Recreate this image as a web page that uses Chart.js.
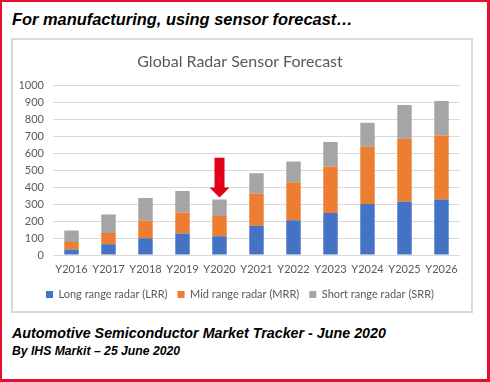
<!DOCTYPE html>
<html>
<head>
<meta charset="utf-8">
<script src="https://cdn.jsdelivr.net/npm/chart.js@4"></script>
<style>
  html, body { margin: 0; padding: 0; background: #fff; }
  #frame { position: absolute; left: 0; top: 0; width: 490px; height: 382px; box-sizing: border-box;
           border-style: solid; border-color: #e60f2d; border-width: 2px 3px 3px 2px; background: #fff; }
  .hdr { position: absolute; font-family: "Liberation Sans", Arial, sans-serif; font-weight: bold; font-style: italic; color: #000; white-space: nowrap; }
  #h1 { left: 12px; top: 10px; font-size: 16.4px; }
  #f1 { left: 12px; top: 325px; font-size: 14.3px; }
  #f2 { left: 12px; top: 344px; font-size: 12.2px; }
  #box { position: absolute; left: 11px; top: 38px; width: 462px; height: 275px; box-sizing: border-box;
         border: 2px solid #d9d9d9; background: #fff; }
  #box canvas { display: block; }
</style>
</head>
<body>
<div id="frame"></div>
<div class="hdr" id="h1">For manufacturing, using sensor forecast…</div>
<div id="box"><canvas id="c" width="458" height="271"></canvas></div>
<div class="hdr" id="f1">Automotive Semiconductor Market Tracker - June 2020</div>
<div class="hdr" id="f2">By IHS Markit – 25 June 2020</div>
<script>
const categories = ["Y2016","Y2017","Y2018","Y2019","Y2020","Y2021","Y2022","Y2023","Y2024","Y2025","Y2026"];
const longRange  = [33, 63, 99, 126, 110, 172, 205, 247, 300, 314, 327];
const midRange   = [44, 67, 102, 124, 119, 189, 223, 274, 337, 370, 377];
const shortRange = [67, 109, 134, 127, 98, 120, 122, 144, 142, 200, 203];
const seriesNames = ["Long range radar (LRR)", "Mid range radar (MRR)", "Short range radar (SRR)"];
const chartTitle = "Global Radar Sensor Forecast";
const arrowCategory = "Y2020";
const arrowFrom = 572, arrowTo = 339;

const FONT = "Lato, 'Open Sans', sans-serif";

const arrowPlugin = {
  id: 'arrow',
  afterDatasetsDraw(chart) {
    const x = chart.scales.x, y = chart.scales.y, ctx = chart.ctx;
    const cx = x.getPixelForValue(categories.indexOf(arrowCategory));
    const top = y.getPixelForValue(arrowFrom);
    const tip = y.getPixelForValue(arrowTo);
    const headLen = 10, shaftW = 10, headW = 20;
    ctx.save();
    ctx.fillStyle = '#e2001a';
    ctx.beginPath();
    ctx.moveTo(cx - shaftW/2, top);
    ctx.lineTo(cx + shaftW/2, top);
    ctx.lineTo(cx + shaftW/2, tip - headLen);
    ctx.lineTo(cx + headW/2, tip - headLen);
    ctx.lineTo(cx, tip);
    ctx.lineTo(cx - headW/2, tip - headLen);
    ctx.lineTo(cx - shaftW/2, tip - headLen);
    ctx.closePath();
    ctx.fill();
    ctx.restore();
  }
};

new Chart(document.getElementById('c'), {
  type: 'bar',
  data: {
    labels: categories,
    datasets: [
      { label: seriesNames[0], data: longRange,  backgroundColor: '#4472c4' },
      { label: seriesNames[1], data: midRange,   backgroundColor: '#ed7d31' },
      { label: seriesNames[2], data: shortRange, backgroundColor: '#a5a5a5' }
    ]
  },
  options: {
    responsive: false,
    animation: false,
    layout: { padding: { left: 7, right: 11, top: 12, bottom: 1 } },
    datasets: { bar: { categoryPercentage: 0.39, barPercentage: 1 } },
    plugins: {
      title: { display: true, text: chartTitle, color: '#595959',
               font: { family: FONT, size: 16, weight: 'normal' }, padding: { top: 0, bottom: 14 } },
      legend: { position: 'bottom',
                labels: { color: '#595959', font: { family: FONT, size: 11 }, boxWidth: 7, boxHeight: 7, padding: 10 } },
      tooltip: { enabled: false }
    },
    scales: {
      x: { stacked: true,
           grid: { display: false, drawTicks: false, tickLength: 0 },
           border: { display: false },
           afterFit: (s) => { s.height = 24; },
           ticks: { color: '#595959', font: { family: FONT, size: 11 }, padding: 8, maxRotation: 0, minRotation: 0, autoSkip: false } },
      y: { stacked: true, min: 0, max: 1000,
           grid: { color: '#d9d9d9', drawTicks: false, tickLength: 0 },
           border: { display: false },
           afterFit: (s) => { s.width = 33; },
           ticks: { stepSize: 100, autoSkip: false, color: '#595959', font: { family: FONT, size: 11 }, padding: 9,
                    callback: (v) => String(v) } }
    }
  },
  plugins: [arrowPlugin]
});
</script>
</body>
</html>
